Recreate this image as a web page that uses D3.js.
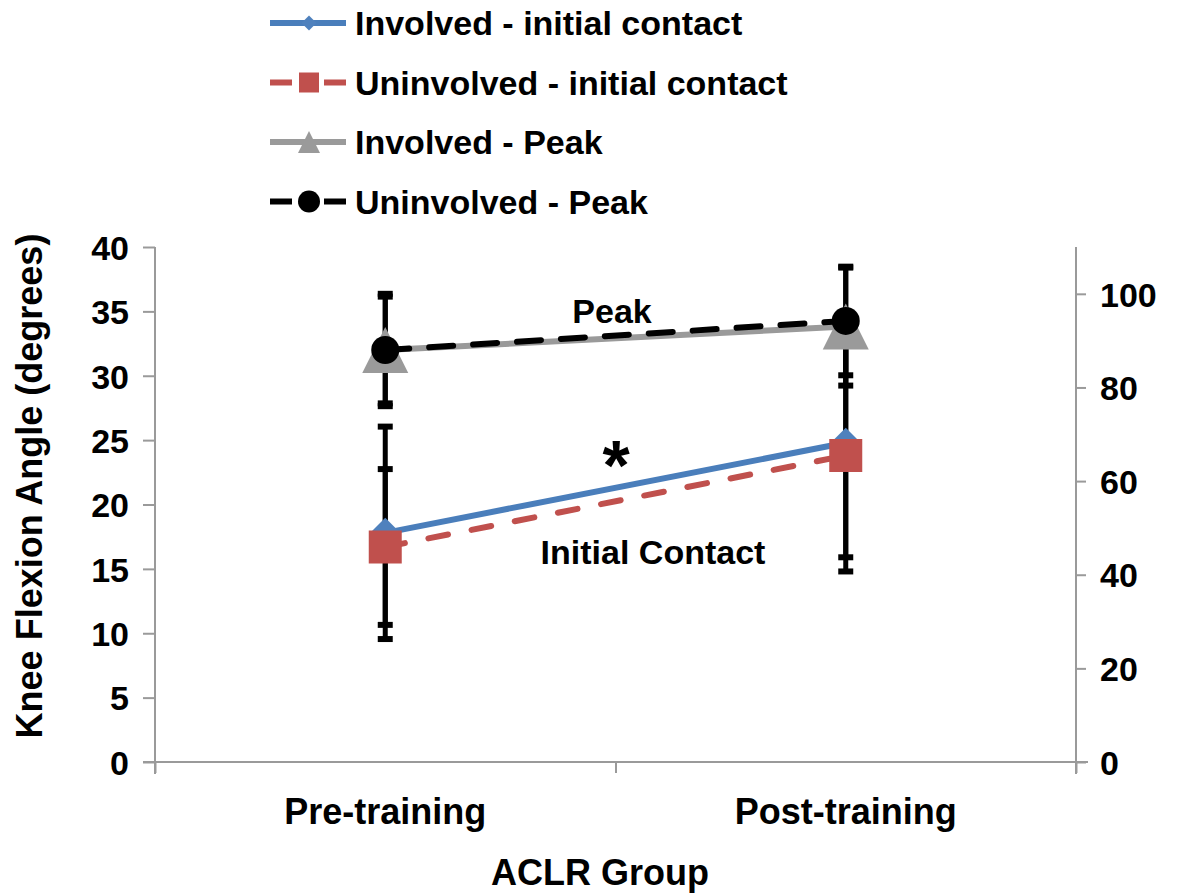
<!DOCTYPE html>
<html>
<head>
<meta charset="utf-8">
<script src="https://cdn.jsdelivr.net/npm/d3@7"></script>
<style>
  body { margin: 0; background: #fff; }
  text { font-family: "Liberation Sans", Arial, sans-serif; font-weight: bold; fill: #000; }
</style>
</head>
<body>
<svg id="chart" width="1183" height="894"></svg>
<script>
// ---- data ----
const categories = ["Pre-training", "Post-training"];

const involvedIC = [17.8, 24.8];
const involvedICsd = [8.25, 8.9];
const uninvolvedIC = [16.7, 23.8];
const uninvolvedICsd = [6.05, 9.0];

const involvedPeak = [88.0, 93.0];
const involvedPeakSd = [12.0, 12.6];
const uninvolvedPeak = [88.0, 94.2];
const uninvolvedPeakSd = [11.4, 11.6];

const leftTicks = [0, 5, 10, 15, 20, 25, 30, 35, 40];
const rightTicks = [0, 20, 40, 60, 80, 100];

const seriesNames = ["Involved - initial contact", "Uninvolved - initial contact", "Involved - Peak", "Uninvolved - Peak"];

// ---- layout ----
const svg = d3.select("#chart");
const plot = { left: 155, right: 1076, top: 247, bottom: 762 };
const axisColor = "#9a9a9a";

const x = d3.scaleBand().domain(categories).range([plot.left, plot.right]).padding(0);
const xEdge = d3.scaleLinear().domain([0, categories.length]).range([plot.left, plot.right]);
const yL = d3.scaleLinear().domain([0, 40]).range([plot.bottom, plot.top]);
const yR = d3.scaleLinear().domain([0, 110]).range([plot.bottom, plot.top]);
const cx = c => x(c) + x.bandwidth() / 2;

const series = [
  { name: seriesNames[0], values: involvedIC, sd: involvedICsd, y: yL, color: "#4a7ebb", marker: "#4f81bd", dash: null, shape: "diamond", size: 30, lsize: 15 },
  { name: seriesNames[1], values: uninvolvedIC, sd: uninvolvedICsd, y: yL, color: "#c0504d", marker: "#c0504d", dash: "20,24", shape: "square", size: 33, lsize: 20 },
  { name: seriesNames[2], values: involvedPeak, sd: involvedPeakSd, y: yR, color: "#9a9a9a", marker: "#9a9a9a", dash: null, shape: "triangle", size: 46, lsize: 22 },
  { name: seriesNames[3], values: uninvolvedPeak, sd: uninvolvedPeakSd, y: yR, color: "#000000", marker: "#000000", dash: "24,20", shape: "circle", size: 28, lsize: 22 }
];

// marker outline paths centred on (0,0)
function markerPath(shape, s) {
  const h = s / 2;
  if (shape === "diamond") return `M0,${-h}L${h},0L0,${h}L${-h},0Z`;
  if (shape === "square") return `M${-h},${-h}H${h}V${h}H${-h}Z`;
  if (shape === "triangle") return `M0,${-h}L${h},${h}L${-h},${h}Z`;
  return d3.arc()({ innerRadius: 0, outerRadius: h, startAngle: 0, endAngle: 2 * Math.PI });
}

// ---- axes ----
const gL = svg.append("g").attr("transform", `translate(${plot.left},0)`)
  .call(d3.axisLeft(yL).tickValues(leftTicks).tickSize(12).tickPadding(14).tickFormat(d3.format("d")));
const gR = svg.append("g").attr("transform", `translate(${plot.right},0)`)
  .call(d3.axisRight(yR).tickValues(rightTicks).tickSize(10).tickPadding(14).tickFormat(d3.format("d")));
const gX = svg.append("g").attr("transform", `translate(0,${plot.bottom})`)
  .call(d3.axisBottom(xEdge).tickValues(d3.range(categories.length + 1)).tickSize(11).tickFormat(""));
const gXL = svg.append("g").attr("transform", `translate(0,${plot.bottom})`)
  .call(d3.axisBottom(x).tickSize(0).tickPadding(36));

[gL, gR, gX].forEach(g => {
  g.selectAll("path.domain").attr("stroke", axisColor).attr("stroke-width", 2);
  g.selectAll(".tick line").attr("stroke", axisColor).attr("stroke-width", 2);
});
gL.select("path.domain").attr("d", `M0,${plot.top}V${plot.bottom + 12}`);
gR.select("path.domain").attr("d", `M0,${plot.top}V${plot.bottom + 12}`);
gX.select("path.domain").attr("d", `M-12,0H${plot.right - plot.left + 12}`).attr("transform", `translate(${plot.left},0)`);
gXL.select("path.domain").remove();
[gL, gR].forEach(g => g.selectAll(".tick text").style("font-size", "34px").attr("dy", "0.36em"));
gXL.selectAll(".tick text").style("font-size", "36px");

// axis titles
svg.append("text")
  .attr("transform", `translate(42,486) rotate(-90)`)
  .attr("text-anchor", "middle").style("font-size", "36px")
  .text("Knee Flexion Angle (degrees)");
svg.append("text")
  .attr("x", 600).attr("y", 885)
  .attr("text-anchor", "middle").style("font-size", "36px")
  .text("ACLR Group");

// ---- series lines ----
const marks = svg.append("g");
series.forEach(s => {
  const line = d3.line().x((d, i) => cx(categories[i])).y(d => s.y(d));
  marks.append("path")
    .attr("d", line(s.values))
    .attr("fill", "none")
    .attr("stroke", s.color)
    .attr("stroke-width", 6)
    .attr("stroke-dasharray", s.dash)
    .attr("stroke-linecap", s.dash ? "round" : "butt");
});

// ---- error bars ----
const capW = 15;
series.forEach(s => {
  s.values.forEach((v, i) => {
    const px = cx(categories[i]);
    const y1 = s.y(v + s.sd[i]), y2 = s.y(v - s.sd[i]);
    const g = marks.append("g").attr("stroke", "#000").attr("stroke-width", 5);
    g.append("line").attr("x1", px).attr("x2", px).attr("y1", y1).attr("y2", y2);
    g.append("line").attr("x1", px - capW / 2).attr("x2", px + capW / 2).attr("y1", y1).attr("y2", y1).attr("stroke-width", 6);
    g.append("line").attr("x1", px - capW / 2).attr("x2", px + capW / 2).attr("y1", y2).attr("y2", y2).attr("stroke-width", 6);
  });
});

// ---- markers ----
series.forEach(s => {
  s.values.forEach((v, i) => {
    marks.append("path")
      .attr("transform", `translate(${cx(categories[i])},${s.y(v)})`)
      .attr("d", markerPath(s.shape, s.size))
      .attr("fill", s.marker);
  });
});

// ---- annotations ----
svg.append("text").attr("x", 612).attr("y", 323).attr("text-anchor", "middle")
  .style("font-size", "34px").text("Peak");
svg.append("text").attr("x", 653).attr("y", 564).attr("text-anchor", "middle")
  .style("font-size", "34px").text("Initial Contact");
svg.append("text").attr("x", 616).attr("y", 490).attr("text-anchor", "middle")
  .style("font-size", "70px").text("*");

// ---- legend ----
const legend = svg.append("g");
series.forEach((s, i) => {
  const ly = 23 + i * 59.5;
  const g = legend.append("g").attr("transform", `translate(0,${ly})`);
  g.append("line").attr("x1", 270).attr("x2", 346).attr("y1", 0).attr("y2", 0)
    .attr("stroke", s.color).attr("stroke-width", 6)
    .attr("stroke-dasharray", s.dash ? "22,32" : null);
  g.append("path").attr("transform", "translate(309,0)")
    .attr("d", markerPath(s.shape, s.lsize)).attr("fill", s.marker);
  g.append("text").attr("x", 355).attr("y", 12).style("font-size", "34px").text(s.name);
});
</script>
</body>
</html>
